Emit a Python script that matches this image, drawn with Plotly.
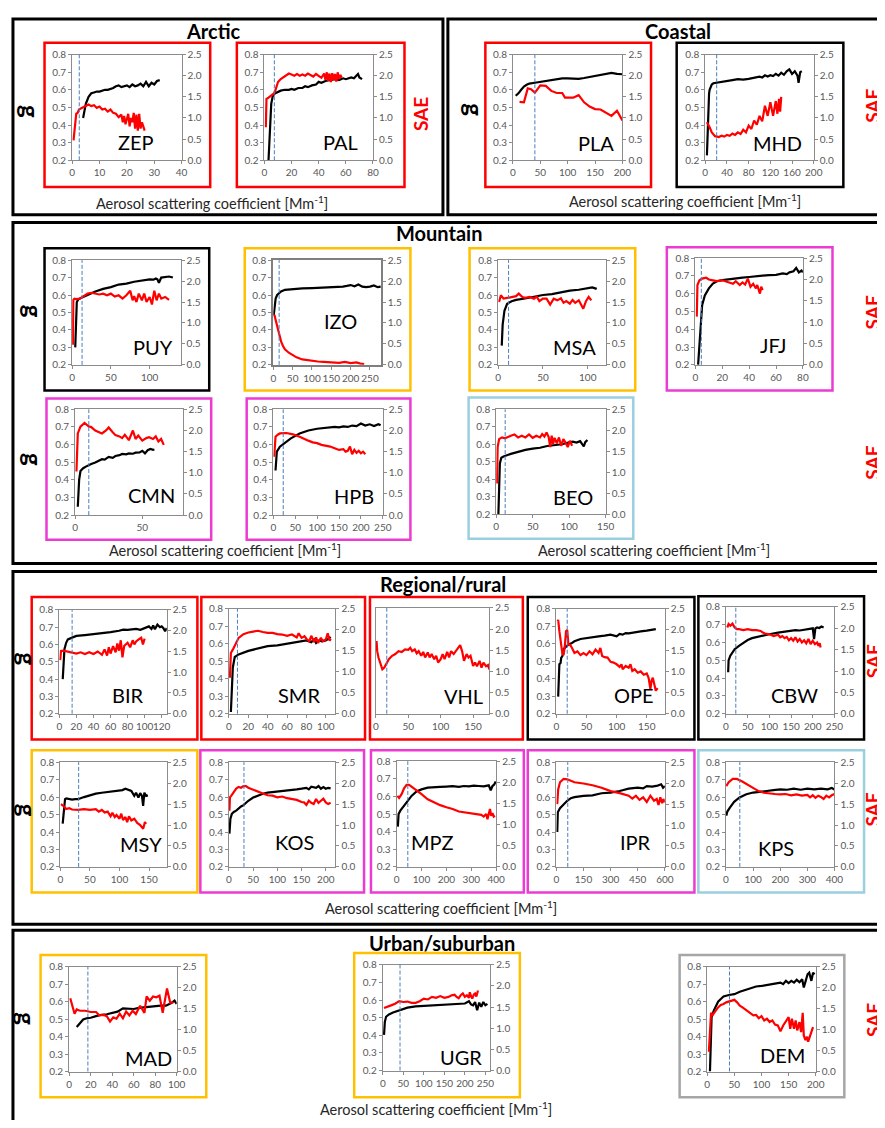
import plotly.graph_objects as go

# ---------------- data ----------------
STATIONS = ["ZEP", "PAL", "PLA", "MHD", "PUY", "IZO", "MSA", "JFJ", "CMN", "HPB", "BEO",
            "BIR", "SMR", "VHL", "OPE", "CBW", "MSY", "KOS", "MPZ", "IPR", "KPS",
            "MAD", "UGR", "DEM"]
THRESHOLD = [2.6, 7.3, 40, 21, 12.8, 15, 11.6, 4.4, 10.2, 22.6, 12.3,
             15, 8.8, 16.8, 18, 22.6, 31, 31, 45, 63, 51,
             17.4, 42, 41]
X_MAX = [40, 80, 200, 200, 140, 278, 120, 80, 80, 250, 150,
         126, 110, 175, 180, 250, 180, 220, 400, 600, 400,
         100, 262, 200]
X_DTICK = [10, 20, 50, 40, 50, 50, 50, 20, 50, 50, 50,
           20, 20, 50, 50, 50, 50, 50, 100, 150, 100,
           20, 50, 50]
G_TICKS = [0.2, 0.3, 0.4, 0.5, 0.6, 0.7, 0.8]
SAE_TICKS = [0.0, 0.5, 1.0, 1.5, 2.0, 2.5]

ZEP_G_X = [4, 5, 6, 7, 8, 9, 10, 11, 12, 13, 14, 15, 16, 17, 18, 19, 20, 21, 22, 23, 24, 25, 26, 27, 28, 29, 30, 31, 32]
ZEP_G = [0.44, 0.52, 0.56, 0.58, 0.585, 0.59, 0.59, 0.595, 0.60, 0.60, 0.605, 0.61, 0.62, 0.625, 0.615, 0.62, 0.625, 0.615, 0.63, 0.62,
         0.625, 0.635, 0.62, 0.645, 0.62, 0.64, 0.63, 0.65, 0.655]
ZEP_SAE_X = [0.5, 1, 1.5, 2, 2.5, 3, 4, 5, 6, 7, 8, 9, 10, 11, 12, 13, 14, 15, 16, 17, 18, 18.5, 19, 19.5, 20, 20.5, 21, 21.5, 22, 22.5,
             23, 23.5, 24, 24.5, 25, 25.5, 26, 26.5]
ZEP_SAE = [0.47, 0.8, 1.1, 1.12, 1.2, 1.22, 1.25, 1.28, 1.32, 1.28, 1.3, 1.24, 1.27, 1.2, 1.22, 1.15, 1.2, 1.12, 1.1, 1.02, 1.08,
           0.9, 1.05, 0.85, 0.98, 1.1, 0.8, 1.0, 0.9, 1.12, 0.75, 1.08, 0.7, 1.1, 0.75, 0.9, 0.8, 0.7]

PAL_G_X = [3, 4, 5, 6, 7, 8, 10, 12, 15, 18, 20, 22, 25, 28, 30, 32, 35, 38, 40, 42, 45, 48, 50, 52, 55, 58, 60, 62, 64, 66, 68, 69, 70, 72]
PAL_G = [0.2, 0.38, 0.52, 0.56, 0.575, 0.58, 0.59, 0.595, 0.6, 0.6, 0.605, 0.6, 0.61, 0.61, 0.62, 0.615, 0.625, 0.63, 0.645, 0.64,
         0.65, 0.655, 0.655, 0.66, 0.655, 0.665, 0.66, 0.665, 0.67, 0.665, 0.68, 0.69, 0.67, 0.66]
PAL_SAE_X = [1, 1.5, 3, 5, 7, 8, 9, 10, 12, 14, 16, 18, 20, 22, 24, 26, 28, 30, 32, 34, 36, 38, 40, 42, 44, 45, 46, 47, 48, 49, 50,
             51, 52, 53, 54, 55, 56, 57]
PAL_SAE = [0.78, 1.45, 1.48, 1.52, 1.58, 1.65, 1.75, 1.85, 1.92, 1.97, 2.02, 2.05, 2.03, 2.0, 2.04, 2.0, 2.03, 2.0, 2.05, 2.02, 1.98,
           2.04, 2.0, 1.95, 2.05, 1.9, 2.08, 1.88, 2.05, 1.85, 2.06, 1.9, 2.04, 1.86, 2.08, 1.92, 2.02, 1.95]

PLA_G_X = [5, 10, 15, 20, 25, 30, 40, 50, 60, 70, 80, 90, 100, 110, 120, 130, 140, 150, 160, 170, 180, 190, 200]
PLA_G = [0.566, 0.58, 0.6, 0.618, 0.628, 0.635, 0.64, 0.645, 0.65, 0.655, 0.66, 0.665, 0.665, 0.662, 0.662, 0.667, 0.673, 0.68,
         0.688, 0.694, 0.696, 0.69, 0.688]
PLA_SAE_X = [12, 20, 27, 33, 40, 45, 50, 60, 70, 80, 90, 95, 100, 110, 120, 130, 140, 150, 160, 170, 180, 190, 200]
PLA_SAE = [1.38, 1.37, 1.70, 1.68, 1.60, 1.68, 1.77, 1.76, 1.64, 1.59, 1.59, 1.48, 1.48, 1.48, 1.54, 1.37, 1.27, 1.21, 1.2, 1.12,
           1.05, 1.17, 0.94]

MHD_G_X = [3, 4, 5, 6, 7, 8, 10, 12, 15, 20, 25, 30, 40, 50, 60, 70, 80, 90, 100, 105, 110, 115, 120, 125, 130, 135, 140, 145, 150,
           155, 160, 165, 170, 172, 175, 178]
MHD_G = [0.228, 0.35, 0.45, 0.53, 0.58, 0.6, 0.62, 0.63, 0.637, 0.64, 0.644, 0.646, 0.65, 0.655, 0.66, 0.658, 0.662, 0.668, 0.674,
         0.67, 0.682, 0.675, 0.683, 0.678, 0.69, 0.68, 0.697, 0.685, 0.705, 0.716, 0.69, 0.705, 0.68, 0.64, 0.70, 0.705]
MHD_SAE_X = [3, 5, 8, 12, 18, 25, 30, 35, 40, 45, 50, 55, 60, 65, 70, 75, 80, 85, 90, 95, 100, 105, 110, 115, 120, 125, 130, 133,
             136, 138, 140]
MHD_SAE = [0.9, 0.86, 0.78, 0.66, 0.57, 0.55, 0.58, 0.56, 0.6, 0.58, 0.63, 0.6, 0.66, 0.62, 0.72, 0.66, 0.82, 0.74, 0.94, 0.84,
           1.05, 0.92, 1.29, 1.05, 1.37, 1.05, 1.4, 1.1, 1.45, 1.15, 1.5]

PUY_G_X = [4, 5, 6, 8, 12, 20, 30, 40, 50, 60, 70, 80, 90, 95, 100, 105, 108, 110, 112, 115, 120, 125, 130]
PUY_G = [0.30, 0.54, 0.56, 0.575, 0.585, 0.6, 0.62, 0.635, 0.645, 0.66, 0.665, 0.676, 0.682, 0.685, 0.69, 0.688, 0.695, 0.69,
         0.67, 0.7, 0.702, 0.706, 0.7]
PUY_SAE_X = [1, 1.5, 3, 5, 10, 15, 20, 25, 30, 35, 40, 45, 50, 55, 60, 65, 70, 75, 78, 80, 83, 86, 90, 93, 96, 100, 103, 106, 109,
             112, 115, 120, 125]
PUY_SAE = [0.48, 1.55, 1.58, 1.57, 1.58, 1.64, 1.70, 1.72, 1.70, 1.68, 1.70, 1.66, 1.70, 1.63, 1.66, 1.58, 1.66, 1.77, 1.54, 1.64,
           1.50, 1.70, 1.54, 1.70, 1.50, 1.62, 1.44, 1.77, 1.54, 1.70, 1.58, 1.62, 1.55]

IZO_G_X = [1, 3, 6, 10, 20, 30, 50, 75, 100, 125, 150, 170, 180, 190, 200, 210, 220, 230, 240, 250, 260, 270, 278]
IZO_G = [0.485, 0.54, 0.58, 0.6, 0.62, 0.63, 0.635, 0.638, 0.64, 0.642, 0.644, 0.645, 0.648, 0.652, 0.657, 0.65, 0.66, 0.648,
         0.645, 0.648, 0.655, 0.645, 0.648]
IZO_SAE_X = [1, 3, 6, 10, 15, 20, 25, 30, 40, 50, 60, 75, 90, 100, 115, 130, 150, 170, 185, 200, 215, 225, 235]
IZO_SAE = [1.15, 1.19, 1.07, 0.92, 0.72, 0.56, 0.45, 0.37, 0.29, 0.23, 0.18, 0.13, 0.11, 0.09, 0.08, 0.07, 0.06, 0.05, 0.07,
           0.04, 0.06, 0.03, 0.02]

MSA_G_X = [4, 5, 7, 10, 15, 20, 30, 40, 50, 60, 70, 80, 90, 100, 105, 110]
MSA_G = [0.31, 0.43, 0.51, 0.55, 0.564, 0.572, 0.58, 0.59, 0.6, 0.605, 0.616, 0.625, 0.63, 0.638, 0.644, 0.635]
MSA_SAE_X = [1, 3, 6, 10, 15, 20, 23, 27, 30, 35, 40, 43, 46, 50, 54, 58, 62, 66, 70, 73, 76, 80, 83, 86, 90, 93, 95, 98, 101, 104]
MSA_SAE = [1.5, 1.66, 1.58, 1.6, 1.62, 1.64, 1.7, 1.62, 1.6, 1.62, 1.58, 1.63, 1.52, 1.58, 1.58, 1.44, 1.58, 1.54, 1.59, 1.48,
           1.52, 1.46, 1.55, 1.48, 1.54, 1.42, 1.34, 1.52, 1.62, 1.54]

JFJ_G_X = [2, 3, 4, 5, 7, 10, 13, 16, 20, 25, 30, 35, 40, 45, 50, 55, 60, 65, 68, 70, 73, 75, 77, 79, 80]
JFJ_G = [0.2, 0.33, 0.46, 0.535, 0.59, 0.63, 0.657, 0.67, 0.676, 0.682, 0.686, 0.69, 0.694, 0.7, 0.702, 0.704, 0.706, 0.714,
         0.71, 0.72, 0.726, 0.745, 0.72, 0.73, 0.72]
JFJ_SAE_X = [1, 1.5, 3, 5, 8, 10, 13, 16, 20, 25, 28, 30, 33, 35, 37, 39, 41, 43, 45, 46, 47, 48, 49, 50]
JFJ_SAE = [1.13, 1.87, 1.98, 2.02, 2.04, 2.0, 1.98, 1.96, 1.98, 1.94, 1.9, 1.96, 1.87, 1.93, 1.88, 2.02, 1.83, 1.9, 1.79, 1.87,
           1.75, 1.67, 1.83, 1.75]

CMN_G_X = [2, 3, 4, 6, 8, 10, 12, 15, 18, 20, 22, 25, 28, 30, 33, 35, 38, 40, 43, 45, 48, 50, 52, 54, 56, 58, 59]
CMN_G = [0.247, 0.40, 0.45, 0.466, 0.475, 0.485, 0.49, 0.498, 0.51, 0.517, 0.515, 0.53, 0.525, 0.535, 0.54, 0.547, 0.545, 0.55,
         0.548, 0.554, 0.556, 0.565, 0.55, 0.568, 0.575, 0.57, 0.572]
CMN_SAE_X = [1, 2, 4, 7, 10, 12, 15, 18, 20, 23, 25, 28, 30, 33, 35, 37, 40, 43, 45, 47, 50, 53, 55, 58, 60, 62, 64, 66]
CMN_SAE = [1.03, 1.93, 2.09, 2.18, 2.1, 2.08, 2.0, 1.96, 1.93, 2.0, 2.07, 1.96, 1.89, 1.86, 1.82, 1.9, 1.77, 2.0, 1.8, 1.88,
           1.76, 1.82, 1.84, 1.8, 1.86, 1.74, 1.8, 1.66]

HPB_G_X = [5, 8, 15, 25, 40, 60, 80, 100, 120, 140, 150, 160, 170, 180, 190, 200, 210, 220, 230, 240, 245]
HPB_G = [0.453, 0.56, 0.588, 0.607, 0.635, 0.663, 0.68, 0.69, 0.695, 0.7, 0.698, 0.703, 0.7, 0.708, 0.705, 0.72, 0.708, 0.715,
         0.705, 0.716, 0.71]
HPB_SAE_X = [2, 5, 10, 15, 30, 45, 60, 70, 80, 90, 100, 110, 120, 130, 140, 150, 160, 165, 170, 175, 180, 185, 190, 195, 200, 205, 210]
HPB_SAE = [1.38, 1.85, 1.9, 1.93, 1.94, 1.91, 1.85, 1.8, 1.76, 1.72, 1.7, 1.66, 1.64, 1.62, 1.58, 1.54, 1.56, 1.5, 1.52, 1.62,
           1.44, 1.54, 1.47, 1.52, 1.46, 1.5, 1.44]

BEO_G_X = [3, 4, 5, 7, 10, 20, 30, 40, 50, 60, 70, 80, 90, 100, 105, 110, 115, 118, 120, 122, 125]
BEO_G = [0.2, 0.375, 0.49, 0.523, 0.53, 0.545, 0.557, 0.568, 0.575, 0.58, 0.59, 0.595, 0.6, 0.611, 0.615, 0.61, 0.618, 0.6,
         0.587, 0.612, 0.625]
BEO_SAE_X = [1, 2, 4, 8, 12, 16, 20, 25, 30, 35, 40, 45, 50, 55, 60, 63, 66, 69, 72, 74, 76, 78, 80, 83, 86, 89, 92, 95, 98, 101, 104]
BEO_SAE = [0.73, 1.6, 1.79, 1.83, 1.81, 1.85, 1.87, 1.9, 1.83, 1.87, 1.83, 1.9, 1.82, 1.87, 1.83, 1.91, 1.85, 1.95, 1.83, 1.6,
           1.87, 1.67, 1.82, 1.69, 1.83, 1.63, 1.79, 1.71, 1.6, 1.75, 1.63]

BIR_G_X = [4, 5, 6, 8, 10, 15, 20, 30, 40, 50, 60, 70, 75, 80, 90, 95, 100, 105, 108, 110, 112, 115, 118, 120, 122, 124, 126]
BIR_G = [0.40, 0.526, 0.573, 0.61, 0.63, 0.64, 0.65, 0.655, 0.66, 0.667, 0.672, 0.68, 0.686, 0.685, 0.69, 0.685, 0.695, 0.705,
         0.69, 0.71, 0.688, 0.715, 0.7, 0.705, 0.695, 0.677, 0.695]
BIR_SAE_X = [1, 2, 5, 10, 15, 20, 25, 30, 35, 40, 45, 50, 53, 56, 58, 60, 63, 66, 68, 70, 72, 74, 76, 80, 83, 86, 88, 90, 93, 96,
             98, 100]
BIR_SAE = [1.29, 1.51, 1.52, 1.5, 1.48, 1.45, 1.48, 1.44, 1.48, 1.44, 1.5, 1.42, 1.55, 1.4, 1.6, 1.45, 1.63, 1.48, 1.69, 1.52,
           1.77, 1.36, 1.63, 1.71, 1.6, 1.77, 1.67, 1.74, 1.79, 1.83, 1.67, 1.81]

SMR_G_X = [2, 3, 4, 6, 8, 10, 20, 30, 40, 50, 60, 65, 70, 75, 80, 85, 88, 90, 93, 96, 100, 103, 105]
SMR_G = [0.21, 0.37, 0.465, 0.525, 0.535, 0.54, 0.56, 0.574, 0.587, 0.592, 0.6, 0.604, 0.61, 0.612, 0.62, 0.61, 0.625, 0.605,
         0.62, 0.615, 0.62, 0.63, 0.64]
SMR_SAE_X = [1, 2, 4, 7, 10, 15, 20, 25, 30, 35, 40, 45, 50, 55, 60, 65, 70, 72, 75, 78, 80, 83, 85, 88, 90, 92, 95, 97, 100,
             102, 104, 105]
SMR_SAE = [0.86, 1.45, 1.53, 1.69, 1.81, 1.9, 1.94, 1.96, 1.98, 1.95, 1.93, 1.93, 1.9, 1.89, 1.86, 1.89, 1.82, 1.92, 1.81, 1.85,
           1.79, 1.73, 1.86, 1.71, 1.82, 1.69, 1.81, 1.73, 1.77, 1.92, 1.74, 1.79]

VHL_G_X = []
VHL_G = []
VHL_SAE_X = [1, 2, 4, 7, 10, 13, 16, 20, 25, 30, 35, 40, 45, 50, 53, 56, 60, 63, 66, 70, 73, 76, 80, 83, 86, 90, 93, 96, 100,
             103, 106, 110, 113, 116, 120, 123, 126, 130, 133, 136, 140, 143, 146, 150, 153, 156, 160, 163, 166, 170, 173, 175]
VHL_SAE = [1.72, 1.48, 1.33, 1.17, 1.05, 1.09, 1.17, 1.29, 1.37, 1.41, 1.48, 1.46, 1.52, 1.51, 1.56, 1.48, 1.52, 1.43, 1.48,
           1.37, 1.46, 1.33, 1.45, 1.33, 1.41, 1.29, 1.37, 1.21, 1.29, 1.41, 1.29, 1.46, 1.33, 1.48, 1.41, 1.48, 1.54, 1.62,
           1.48, 1.25, 1.41, 1.33, 1.37, 1.13, 1.21, 1.12, 1.25, 1.09, 1.21, 1.12, 1.15, 1.05]

OPE_G_X = [3, 4, 5, 7, 8, 10, 12, 15, 20, 25, 30, 40, 50, 60, 70, 80, 90, 100, 105, 110, 115, 120, 130, 140, 150, 160, 165]
OPE_G = [0.298, 0.41, 0.483, 0.49, 0.52, 0.53, 0.57, 0.58, 0.595, 0.603, 0.615, 0.628, 0.634, 0.638, 0.643, 0.647, 0.653, 0.643,
         0.657, 0.653, 0.662, 0.66, 0.668, 0.672, 0.676, 0.68, 0.685]
OPE_SAE_X = [2, 3, 5, 8, 10, 12, 14, 16, 18, 20, 23, 26, 30, 35, 40, 45, 50, 55, 60, 65, 70, 73, 76, 80, 85, 90, 95, 100, 105,
             108, 110, 115, 120, 123, 126, 130, 135, 140, 145, 150, 153, 156, 158, 160, 163, 165, 168]
OPE_SAE = [2.2, 2.24, 1.97, 1.69, 1.43, 1.4, 1.61, 1.97, 2.0, 1.65, 1.64, 1.57, 1.45, 1.49, 1.4, 1.45, 1.4, 1.49, 1.42, 1.53,
           1.45, 1.57, 1.38, 1.35, 1.34, 1.24, 1.22, 1.18, 1.12, 1.18, 1.06, 1.14, 1.1, 1.18, 1.02, 1.06, 0.98, 1.01, 0.93,
           0.96, 0.86, 0.59, 0.79, 0.86, 0.71, 0.55, 0.61]

CBW_G_X = [5, 6, 10, 15, 20, 30, 40, 50, 60, 80, 100, 120, 140, 160, 170, 180, 190, 200, 203, 206, 210, 215, 220, 225]
CBW_G = [0.433, 0.5, 0.526, 0.545, 0.563, 0.582, 0.6, 0.614, 0.625, 0.638, 0.647, 0.656, 0.662, 0.67, 0.668, 0.672, 0.675, 0.68,
         0.62, 0.68, 0.685, 0.682, 0.69, 0.685]
CBW_SAE_X = [3, 6, 10, 15, 20, 25, 30, 40, 50, 60, 70, 80, 85, 90, 100, 110, 120, 125, 130, 135, 140, 145, 150, 155, 160, 165,
             170, 175, 180, 185, 190, 195, 200, 205, 210, 213, 216, 218]
CBW_SAE = [2.02, 2.1, 2.06, 2.11, 2.02, 1.98, 1.98, 1.96, 1.98, 1.96, 1.96, 1.94, 1.9, 1.88, 1.86, 1.82, 1.85, 1.79, 1.82, 1.77,
           1.8, 1.72, 1.77, 1.71, 1.79, 1.69, 1.75, 1.67, 1.72, 1.65, 1.75, 1.63, 1.71, 1.63, 1.67, 1.59, 1.65, 1.55]

MSY_G_X = [4, 6, 8, 10, 15, 20, 25, 30, 40, 50, 60, 70, 80, 90, 100, 105, 110, 115, 120, 125, 128, 132, 135, 138, 140, 142, 145, 148]
MSY_G = [0.448, 0.55, 0.588, 0.592, 0.588, 0.585, 0.588, 0.588, 0.6, 0.61, 0.62, 0.625, 0.63, 0.635, 0.638, 0.64, 0.648, 0.64,
         0.635, 0.607, 0.625, 0.597, 0.622, 0.607, 0.55, 0.625, 0.607, 0.61]
MSY_SAE_X = [1, 5, 10, 15, 20, 30, 40, 50, 60, 65, 70, 75, 80, 85, 88, 92, 95, 100, 103, 106, 110, 113, 116, 120, 125, 130, 135,
             140, 143, 145]
MSY_SAE = [1.5, 1.46, 1.38, 1.4, 1.37, 1.36, 1.38, 1.36, 1.38, 1.32, 1.36, 1.3, 1.32, 1.21, 1.29, 1.19, 1.24, 1.15, 1.27, 1.12,
           1.19, 1.07, 1.21, 1.11, 1.15, 1.05, 1.0, 0.91, 1.07, 1.03]

KOS_G_X = [1, 3, 6, 10, 15, 20, 25, 30, 40, 50, 60, 70, 80, 100, 120, 140, 150, 160, 165, 170, 180, 185, 190, 195, 200, 205, 210]
KOS_G = [0.391, 0.476, 0.504, 0.515, 0.522, 0.535, 0.546, 0.554, 0.579, 0.597, 0.61, 0.619, 0.626, 0.631, 0.639, 0.644, 0.648,
         0.653, 0.644, 0.659, 0.653, 0.663, 0.648, 0.657, 0.648, 0.653, 0.65]
KOS_SAE_X = [1, 2, 5, 10, 15, 20, 25, 30, 35, 40, 50, 60, 70, 80, 90, 100, 110, 120, 130, 140, 150, 155, 160, 165, 170, 175, 180,
             185, 190, 195, 200, 205, 210]
KOS_SAE = [1.34, 1.66, 1.7, 1.79, 1.87, 1.91, 1.89, 1.93, 1.93, 1.89, 1.84, 1.79, 1.75, 1.71, 1.7, 1.66, 1.68, 1.64, 1.62, 1.6,
           1.55, 1.54, 1.48, 1.58, 1.53, 1.5, 1.62, 1.53, 1.58, 1.63, 1.54, 1.5, 1.53]

MPZ_G_X = [5, 8, 15, 25, 35, 45, 60, 80, 100, 125, 150, 175, 200, 225, 250, 270, 290, 310, 330, 350, 370, 378, 385, 392, 398]
MPZ_G = [0.429, 0.5, 0.519, 0.537, 0.56, 0.575, 0.603, 0.628, 0.64, 0.65, 0.654, 0.654, 0.656, 0.658, 0.654, 0.659, 0.657, 0.661,
         0.659, 0.657, 0.663, 0.635, 0.659, 0.667, 0.684]
MPZ_SAE_X = [3, 10, 20, 30, 40, 50, 60, 75, 100, 125, 150, 175, 200, 225, 250, 275, 300, 320, 340, 350, 360, 365, 370, 375, 380,
             385, 390, 395]
MPZ_SAE = [1.68, 1.63, 1.72, 1.86, 1.94, 1.94, 1.9, 1.84, 1.72, 1.6, 1.52, 1.46, 1.41, 1.37, 1.31, 1.29, 1.27, 1.25, 1.23, 1.19,
           1.25, 1.13, 1.23, 1.37, 1.21, 1.27, 1.19, 1.21]

IPR_G_X = [5, 8, 20, 40, 60, 80, 100, 150, 200, 250, 300, 350, 400, 450, 480, 500, 530, 560, 580, 590, 600]
IPR_G = [0.40, 0.513, 0.536, 0.56, 0.579, 0.594, 0.6, 0.607, 0.61, 0.622, 0.626, 0.635, 0.648, 0.654, 0.65, 0.663, 0.66, 0.666,
         0.673, 0.654, 0.663]
IPR_SAE_X = [5, 10, 20, 40, 60, 80, 100, 150, 200, 250, 300, 350, 400, 420, 440, 460, 480, 500, 520, 540, 555, 565, 575, 585, 592, 600]
IPR_SAE = [1.5, 1.85, 2.02, 2.1, 2.09, 2.05, 2.02, 1.99, 1.95, 1.89, 1.81, 1.76, 1.7, 1.63, 1.7, 1.6, 1.66, 1.55, 1.7, 1.58,
           1.62, 1.48, 1.66, 1.52, 1.62, 1.54]

KPS_G_X = [1, 5, 15, 30, 50, 75, 100, 125, 150, 175, 200, 225, 250, 275, 300, 325, 350, 375, 390, 400]
KPS_G = [0.494, 0.517, 0.541, 0.573, 0.598, 0.616, 0.626, 0.629, 0.635, 0.64, 0.644, 0.642, 0.648, 0.642, 0.648, 0.644, 0.648,
         0.644, 0.652, 0.644]
KPS_SAE_X = [1, 10, 25, 40, 60, 80, 100, 120, 140, 160, 180, 200, 220, 240, 260, 280, 300, 310, 320, 330, 340, 350, 360, 370,
             380, 390, 400]
KPS_SAE = [1.93, 2.02, 2.1, 2.1, 2.04, 1.97, 1.88, 1.81, 1.77, 1.75, 1.74, 1.73, 1.74, 1.71, 1.73, 1.7, 1.72, 1.66, 1.71, 1.65,
           1.7, 1.67, 1.62, 1.7, 1.66, 1.71, 1.74]

MAD_G_X = [7, 10, 13, 17, 20, 25, 30, 35, 40, 45, 50, 55, 60, 65, 70, 75, 80, 85, 90, 95, 98, 100]
MAD_G = [0.455, 0.479, 0.498, 0.506, 0.508, 0.517, 0.525, 0.528, 0.536, 0.543, 0.562, 0.558, 0.558, 0.564, 0.568, 0.572, 0.577,
         0.577, 0.577, 0.592, 0.606, 0.587]
MAD_SAE_X = [1, 3, 5, 7, 10, 15, 20, 25, 28, 32, 35, 38, 41, 44, 47, 50, 53, 56, 59, 62, 66, 70, 72, 75, 78, 81, 84, 87, 91, 94, 97]
MAD_SAE = [1.75, 1.53, 1.38, 1.48, 1.45, 1.45, 1.42, 1.42, 1.34, 1.35, 1.32, 1.19, 1.29, 1.26, 1.38, 1.27, 1.43, 1.34, 1.45,
           1.37, 1.57, 1.4, 1.79, 1.69, 1.79, 1.77, 1.81, 1.4, 1.98, 1.64, 1.65]

UGR_G_X = [3, 5, 8, 15, 25, 40, 60, 80, 100, 125, 150, 175, 200, 210, 215, 220, 225, 230, 235, 240, 245, 250, 255]
UGR_G = [0.402, 0.476, 0.505, 0.518, 0.529, 0.542, 0.557, 0.564, 0.566, 0.571, 0.575, 0.574, 0.58, 0.593, 0.575, 0.57, 0.589,
         0.542, 0.585, 0.561, 0.589, 0.57, 0.578]
UGR_SAE_X = [3, 10, 20, 30, 40, 50, 60, 70, 80, 90, 100, 110, 120, 130, 140, 150, 160, 168, 175, 180, 185, 190, 195, 200, 205,
             210, 212, 215, 218, 222, 225, 228, 232]
UGR_SAE = [1.48, 1.5, 1.54, 1.58, 1.64, 1.62, 1.63, 1.6, 1.6, 1.64, 1.7, 1.68, 1.74, 1.72, 1.76, 1.72, 1.74, 1.78, 1.79, 1.74,
           1.71, 1.78, 1.82, 1.74, 1.78, 1.72, 1.85, 1.76, 1.7, 1.8, 1.82, 1.75, 1.89]

DEM_G_X = [5, 6, 8, 12, 16, 20, 25, 30, 40, 50, 60, 70, 80, 90, 100, 110, 120, 130, 135, 140, 145, 150, 155, 160, 165, 170, 175,
           178, 182, 185, 188, 190, 192, 195, 198]
DEM_G = [0.2, 0.389, 0.511, 0.549, 0.577, 0.6, 0.615, 0.63, 0.638, 0.643, 0.657, 0.668, 0.679, 0.687, 0.69, 0.694, 0.7, 0.706,
         0.709, 0.7, 0.719, 0.706, 0.719, 0.709, 0.725, 0.711, 0.728, 0.681, 0.725, 0.757, 0.766, 0.747, 0.719, 0.766, 0.757]
DEM_SAE_X = [3, 5, 7, 10, 15, 20, 25, 30, 35, 40, 45, 50, 55, 60, 65, 70, 75, 80, 85, 90, 95, 100, 105, 110, 115, 120, 125, 130,
             135, 140, 145, 150, 153, 156, 160, 163, 166, 170, 173, 176, 178, 181, 184, 186, 188, 192, 195]
DEM_SAE = [0.47, 0.94, 1.4, 1.35, 1.45, 1.53, 1.59, 1.61, 1.65, 1.67, 1.69, 1.71, 1.65, 1.57, 1.53, 1.48, 1.43, 1.4, 1.34, 1.35,
           1.27, 1.32, 1.22, 1.26, 1.18, 1.22, 1.12, 1.1, 0.96, 1.1, 1.19, 1.3, 1.02, 1.26, 1.02, 1.22, 0.98, 1.18, 0.94, 1.4,
           0.86, 0.75, 0.83, 0.71, 0.79, 0.98, 1.06]

SERIES = {
    "ZEP": (ZEP_G_X, ZEP_G, ZEP_SAE_X, ZEP_SAE), "PAL": (PAL_G_X, PAL_G, PAL_SAE_X, PAL_SAE),
    "PLA": (PLA_G_X, PLA_G, PLA_SAE_X, PLA_SAE), "MHD": (MHD_G_X, MHD_G, MHD_SAE_X, MHD_SAE),
    "PUY": (PUY_G_X, PUY_G, PUY_SAE_X, PUY_SAE), "IZO": (IZO_G_X, IZO_G, IZO_SAE_X, IZO_SAE),
    "MSA": (MSA_G_X, MSA_G, MSA_SAE_X, MSA_SAE), "JFJ": (JFJ_G_X, JFJ_G, JFJ_SAE_X, JFJ_SAE),
    "CMN": (CMN_G_X, CMN_G, CMN_SAE_X, CMN_SAE), "HPB": (HPB_G_X, HPB_G, HPB_SAE_X, HPB_SAE),
    "BEO": (BEO_G_X, BEO_G, BEO_SAE_X, BEO_SAE), "BIR": (BIR_G_X, BIR_G, BIR_SAE_X, BIR_SAE),
    "SMR": (SMR_G_X, SMR_G, SMR_SAE_X, SMR_SAE), "VHL": (VHL_G_X, VHL_G, VHL_SAE_X, VHL_SAE),
    "OPE": (OPE_G_X, OPE_G, OPE_SAE_X, OPE_SAE), "CBW": (CBW_G_X, CBW_G, CBW_SAE_X, CBW_SAE),
    "MSY": (MSY_G_X, MSY_G, MSY_SAE_X, MSY_SAE), "KOS": (KOS_G_X, KOS_G, KOS_SAE_X, KOS_SAE),
    "MPZ": (MPZ_G_X, MPZ_G, MPZ_SAE_X, MPZ_SAE), "IPR": (IPR_G_X, IPR_G, IPR_SAE_X, IPR_SAE),
    "KPS": (KPS_G_X, KPS_G, KPS_SAE_X, KPS_SAE), "MAD": (MAD_G_X, MAD_G, MAD_SAE_X, MAD_SAE),
    "UGR": (UGR_G_X, UGR_G, UGR_SAE_X, UGR_SAE), "DEM": (DEM_G_X, DEM_G, DEM_SAE_X, DEM_SAE),
}

# ---------------- layout (pixel geometry of the page) ----------------
PAGE_W, PAGE_H = 885, 1128
OFF = 8                          # browser body margin
W, H = PAGE_W - 2 * OFF, PAGE_H - 2 * OFF
FONT = "Lato"
RED, ORANGE, MAGENTA, LBLUE, GRAY, BLACK = "#FF0000", "#FFC000", "#EC3BD3", "#9ACFE0", "#A6A6A6", "#000000"
AXIS_LINE = "#8C8C8C"
TICK_TEXT = "#595959"

# plot area (x0, x1, y0, y1), frame (x0, x1, y0, y1), frame colour, label (right x, centre y)  -- page pixels
GEOM = {
    "ZEP": ((70, 181, 48, 155), (42, 210, 36, 182), RED, (155, 137)),
    "PAL": ((265, 375, 48, 155), (237, 407, 36, 182), RED, (362, 137)),
    "PLA": ((517, 628, 48, 155), (489, 657, 36, 182), RED, (621, 138)),
    "MHD": ((712, 822, 48, 155), (683, 852, 36, 182), BLACK, (812, 138)),
    "PUY": ((70, 180, 256, 362), (42, 209, 244, 388), BLACK, (174, 344)),
    "IZO": ((274, 383, 256, 362), (245, 413, 244, 388), ORANGE, (361, 318)),
    "MSA": ((502, 611, 256, 362), (473, 641, 244, 388), ORANGE, (603, 344)),
    "JFJ": ((702, 811, 254, 362), (673, 841, 243, 388), MAGENTA, (796, 342)),
    "CMN": ((73, 182, 407, 514), (44, 211, 396, 539), MAGENTA, (176, 494)),
    "HPB": ((274, 385, 407, 514), (247, 413, 396, 539), MAGENTA, (378, 495)),
    "BEO": ((500, 611, 407, 513), (472, 639, 395, 538), LBLUE, (600, 496)),
    "BIR": ((57, 166, 610, 715), (29, 197, 597, 741), RED, (145, 696)),
    "SMR": ((229, 337, 609, 715), (201, 367, 597, 741), RED, (323, 696)),
    "VHL": ((378, 493, 608, 715), (372, 527, 597, 741), RED, (489, 697)),
    "OPE": ((561, 671, 609, 715), (532, 701, 597, 741), BLACK, (662, 696)),
    "CBW": ((733, 843, 607, 715), (705, 873, 596, 741), BLACK, (828, 696)),
    "MSY": ((58, 166, 764, 870), (29, 197, 752, 896), ORANGE, (163, 847)),
    "KOS": ((229, 337, 764, 870), (200, 366, 752, 896), MAGENTA, (317, 845)),
    "MPZ": ((399, 500, 763, 870), (373, 528, 752, 896), MAGENTA, (459, 845)),
    "IPR": ((561, 671, 764, 870), (532, 701, 752, 896), MAGENTA, (659, 845)),
    "KPS": ((733, 843, 764, 870), (705, 873, 752, 896), LBLUE, (804, 851)),
    "MAD": ((67, 176, 971, 1077), (38, 206, 959, 1103), ORANGE, (173, 1063)),
    "UGR": ((385, 494, 969, 1076), (356, 524, 957, 1103), ORANGE, (488, 1062)),
    "DEM": ((714, 824, 971, 1077), (686, 853, 959, 1103), GRAY, (815, 1060)),
}

GROUP_BOXES = [(10, 446, 12, 210), (451, 905, 12, 210), (10, 905, 218, 563), (10, 905, 571, 928), (10, 905, 934, 1150)]
GROUP_TITLES = [("Arctic", 213, 24), ("Coastal", 684, 24), ("Mountain", 442, 229),
                ("Regional/rural", 446, 584), ("Urban/suburban", 445, 947)]
XTITLE_POS = [(212, 198), (691, 196), (225, 549), (660, 549), (444, 911), (439, 1114)]
G_POS = [(27, 106), (478, 104), (31, 308), (31, 458), (25, 660), (25, 813), (24, 1024)]
SAE_POS = [(424, 108), (882, 100), (882, 309), (882, 461), (882, 662), (882, 812), (882, 1025)]


def fx(p):
    return (p - OFF) / W


def fy(p):
    return 1 - (p - OFF) / H


def ref(prefix, n):
    return prefix if n == 1 else f"{prefix}{n}"


fig = go.Figure()
layout = {}
shapes = []
annotations = []

tickfont = dict(family=FONT, size=10, color=TICK_TEXT)
common = dict(showgrid=False, zeroline=False, showline=True, linecolor=AXIS_LINE, linewidth=1,
              ticks="outside", ticklen=3, tickcolor=AXIS_LINE, tickwidth=1, tickfont=tickfont,
              tickangle=0, fixedrange=True)

for i, st in enumerate(STATIONS):
    xn, gn, sn = i + 1, 2 * i + 1, 2 * i + 2
    xr, gr, sr = ref("x", xn), ref("y", gn), ref("y", sn)
    (px0, px1, py0, py1), (qx0, qx1, qy0, qy1), fcol, (lx, ly) = GEOM[st]
    gx, g, sx, s = SERIES[st]
    xmax, dt = X_MAX[i], X_DTICK[i]

    fig.add_trace(go.Scatter(x=gx, y=g, xaxis=xr, yaxis=gr, mode="lines",
                             line=dict(color="black", width=2.2), showlegend=False, hoverinfo="skip"))
    fig.add_trace(go.Scatter(x=sx, y=s, xaxis=xr, yaxis=sr, mode="lines",
                             line=dict(color="#FF0000", width=2.2), showlegend=False, hoverinfo="skip"))

    xt = list(range(0, xmax + 1, dt))
    plot_line = dict(linecolor="#7F7F7F", linewidth=2) if st == "IZO" else {}
    layout[ref("xaxis", xn)] = dict(common, domain=[fx(px0), fx(px1)], anchor=gr, range=[0, xmax],
                                    tickmode="array", tickvals=xt, ticktext=[str(v) for v in xt], mirror=True,
                                    **plot_line)
    gaxis = dict(common, domain=[fy(py1), fy(py0)], anchor=xr, range=[0.2, 0.8],
                 tickmode="array", tickvals=G_TICKS, ticktext=[f"{v:.1f}" for v in G_TICKS], **plot_line)
    if st == "VHL":
        gaxis.update(showticklabels=False, ticks="")
    layout[ref("yaxis", gn)] = gaxis
    layout[ref("yaxis", sn)] = dict(common, overlaying=gr, side="right", anchor=xr, range=[0, 2.5],
                                    tickmode="array", tickvals=SAE_TICKS,
                                    ticktext=[f"{v:.1f}" for v in SAE_TICKS], **plot_line)

    # station frame
    shapes.append(dict(type="rect", xref="paper", yref="paper", x0=fx(qx0), x1=fx(qx1), y0=fy(qy1), y1=fy(qy0),
                       line=dict(color=fcol, width=2.5), fillcolor="rgba(0,0,0,0)"))
    # dashed threshold line
    shapes.append(dict(type="line", xref=xr, yref=f"{gr} domain", x0=THRESHOLD[i], x1=THRESHOLD[i], y0=0, y1=1,
                       line=dict(color="#4A7EBB", width=1, dash="4px,2px")))
    # station label
    annotations.append(dict(text=st, x=fx(lx), y=fy(ly), xref="paper", yref="paper", xanchor="right",
                            yanchor="middle", showarrow=False, font=dict(family=FONT, size=20, color="black")))

for (bx0, bx1, by0, by1) in GROUP_BOXES:
    shapes.append(dict(type="rect", xref="paper", yref="paper", x0=fx(bx0), x1=fx(bx1), y0=fy(by1), y1=fy(by0),
                       line=dict(color="black", width=3), fillcolor="rgba(0,0,0,0)"))

for (t, x, y) in GROUP_TITLES:
    annotations.append(dict(text=f"<b>{t}</b>", x=fx(x), y=fy(y), xref="paper", yref="paper", xanchor="center",
                            yanchor="middle", showarrow=False, font=dict(family=FONT, size=20, color="black")))

for (x, y) in XTITLE_POS:
    annotations.append(dict(text="Aerosol scattering coefficient [Mm<sup>-1</sup>]", x=fx(x), y=fy(y), xref="paper",
                            yref="paper", xanchor="center", yanchor="middle", showarrow=False,
                            font=dict(family=FONT, size=14.5, color="#262626")))

for (x, y) in G_POS:
    annotations.append(dict(text="<b>g</b>", x=fx(x), y=fy(y), xref="paper", yref="paper", xanchor="center",
                            yanchor="middle", showarrow=False, textangle=90,
                            font=dict(family=FONT, size=24, color="black")))

for (x, y) in SAE_POS:
    annotations.append(dict(text="<b>SAE</b>", x=fx(x), y=fy(y), xref="paper", yref="paper", xanchor="center",
                            yanchor="middle", showarrow=False, textangle=-90,
                            font=dict(family=FONT, size=19, color="#FF0000")))

fig.update_layout(
    width=W, height=H, autosize=False,
    margin=dict(l=0, r=0, t=0, b=0),
    paper_bgcolor="white", plot_bgcolor="white",
    showlegend=False,
    font=dict(family=FONT),
    shapes=shapes, annotations=annotations,
    **layout,
)

fig.write_html("out.html", config={"displayModeBar": False})
